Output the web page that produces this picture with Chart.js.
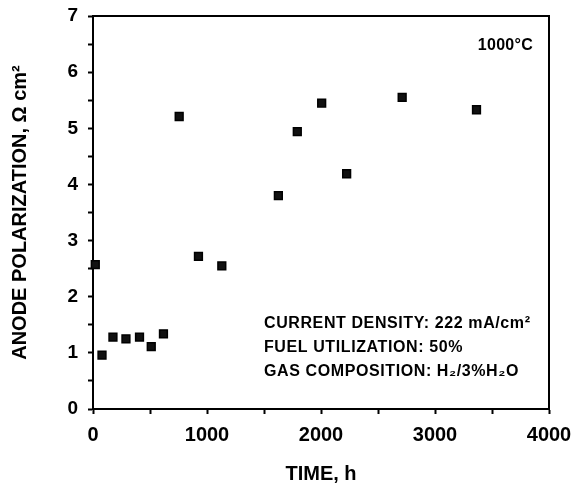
<!DOCTYPE html>
<html><head><meta charset="utf-8">
<script src="https://cdn.jsdelivr.net/npm/chart.js@4/dist/chart.umd.min.js"></script>
<style>html,body{margin:0;padding:0;background:#fff}#wrap{width:573px;height:486px;position:relative}</style>
</head><body><div id="wrap"><canvas id="c"></canvas></div>
<script>
const timeHours = [20, 79, 175, 289, 408, 511, 618, 756, 925, 1130, 1626, 1792, 2006, 2225, 2712, 3364];
const polarization = [2.57, 0.96, 1.28, 1.25, 1.28, 1.11, 1.34, 5.21, 2.72, 2.55, 3.80, 4.94, 5.45, 4.19, 5.55, 5.33];
const xTickLabels = ['0', '1000', '2000', '3000', '4000'];
const yTickLabels = ['0', '1', '2', '3', '4', '5', '6', '7'];
const temperatureLabel = '1000°C';
const conditionLines = ['CURRENT DENSITY: 222 mA/cm²', 'FUEL UTILIZATION: 50%', 'GAS COMPOSITION: H₂/3%H₂O'];
const xTitle = 'TIME, h';
const yTitle = 'ANODE POLARIZATION, Ω cm²';

const FONT = '"Liberation Sans", Arial, Helvetica, sans-serif';

const extras = {
  id: 'extras',
  afterDraw(chart) {
    const {ctx, chartArea: a, scales: {x, y}} = chart;
    ctx.save();
    ctx.strokeStyle = '#000';
    ctx.lineWidth = 2;
    ctx.beginPath();
    ctx.moveTo(a.left, a.top);
    ctx.lineTo(a.right, a.top);
    ctx.lineTo(a.right, a.bottom);
    ctx.stroke();
    ctx.fillStyle = '#000';
    ctx.textBaseline = 'middle';
    ctx.textAlign = 'left';
    ctx.font = 'bold 16px ' + FONT;
    try { ctx.letterSpacing = '0.3px'; } catch (e) {}
    ctx.fillText(temperatureLabel, x.getPixelForValue(3375), y.getPixelForValue(6.48));
    try { ctx.letterSpacing = '0.6px'; } catch (e) {}
    const lineVals = [1.52, 1.09, 0.66];
    conditionLines.forEach((t, i) => {
      ctx.fillText(t, x.getPixelForValue(1500), y.getPixelForValue(lineVals[i]));
    });
    ctx.restore();
  }
};

const axisCommon = {
  grid: {display: true, drawOnChartArea: false, drawTicks: true, tickLength: 5, tickColor: '#000', tickWidth: 2},
  border: {display: true, color: '#000', width: 2},
};

new Chart(document.getElementById('c'), {
  type: 'scatter',
  data: {
    datasets: [{
      data: timeHours.map((t, i) => ({x: t, y: polarization[i]})),
      pointStyle: 'rect',
      pointRadius: 5.5,
      pointHoverRadius: 5.5,
      backgroundColor: '#111',
      borderColor: '#000',
      borderWidth: 1.5,
      clip: false
    }]
  },
  options: {
    responsive: true,
    maintainAspectRatio: false,
    animation: false,
    events: [],
    layout: {padding: {top: 16, right: 24, left: 0, bottom: 0}},
    plugins: {legend: {display: false}, tooltip: {enabled: false}},
    scales: {
      x: {
        ...axisCommon,
        type: 'linear',
        min: 0, max: 4000,
        ticks: {
          stepSize: 500, autoSkip: false, maxRotation: 0, padding: 9,
          color: '#000', font: {family: FONT, size: 20, weight: 'bold'},
          callback: v => (v % 1000 === 0 ? xTickLabels[v / 1000] : '')
        },
        title: {display: true, text: xTitle, color: '#000', font: {family: FONT, size: 20, weight: 'bold'}, padding: {top: 8, bottom: 0}},
        afterFit: s => { s.height = 77; s.paddingLeft = 0; s.paddingRight = 0; }
      },
      y: {
        ...axisCommon,
        type: 'linear',
        min: 0, max: 7,
        ticks: {
          stepSize: 0.5, autoSkip: false, padding: 10,
          color: '#000', font: {family: FONT, size: 19, weight: 'bold'},
          callback: v => (Number.isInteger(v) ? yTickLabels[v] : '')
        },
        title: {display: true, text: yTitle, color: '#000', font: {family: FONT, size: 20, weight: 'bold'}, padding: {top: 8, bottom: 0}},
        afterFit: s => { s.width = 93; s.paddingTop = 0; s.paddingBottom = 0; }
      }
    }
  },
  plugins: [extras]
});
</script>
</body></html>
